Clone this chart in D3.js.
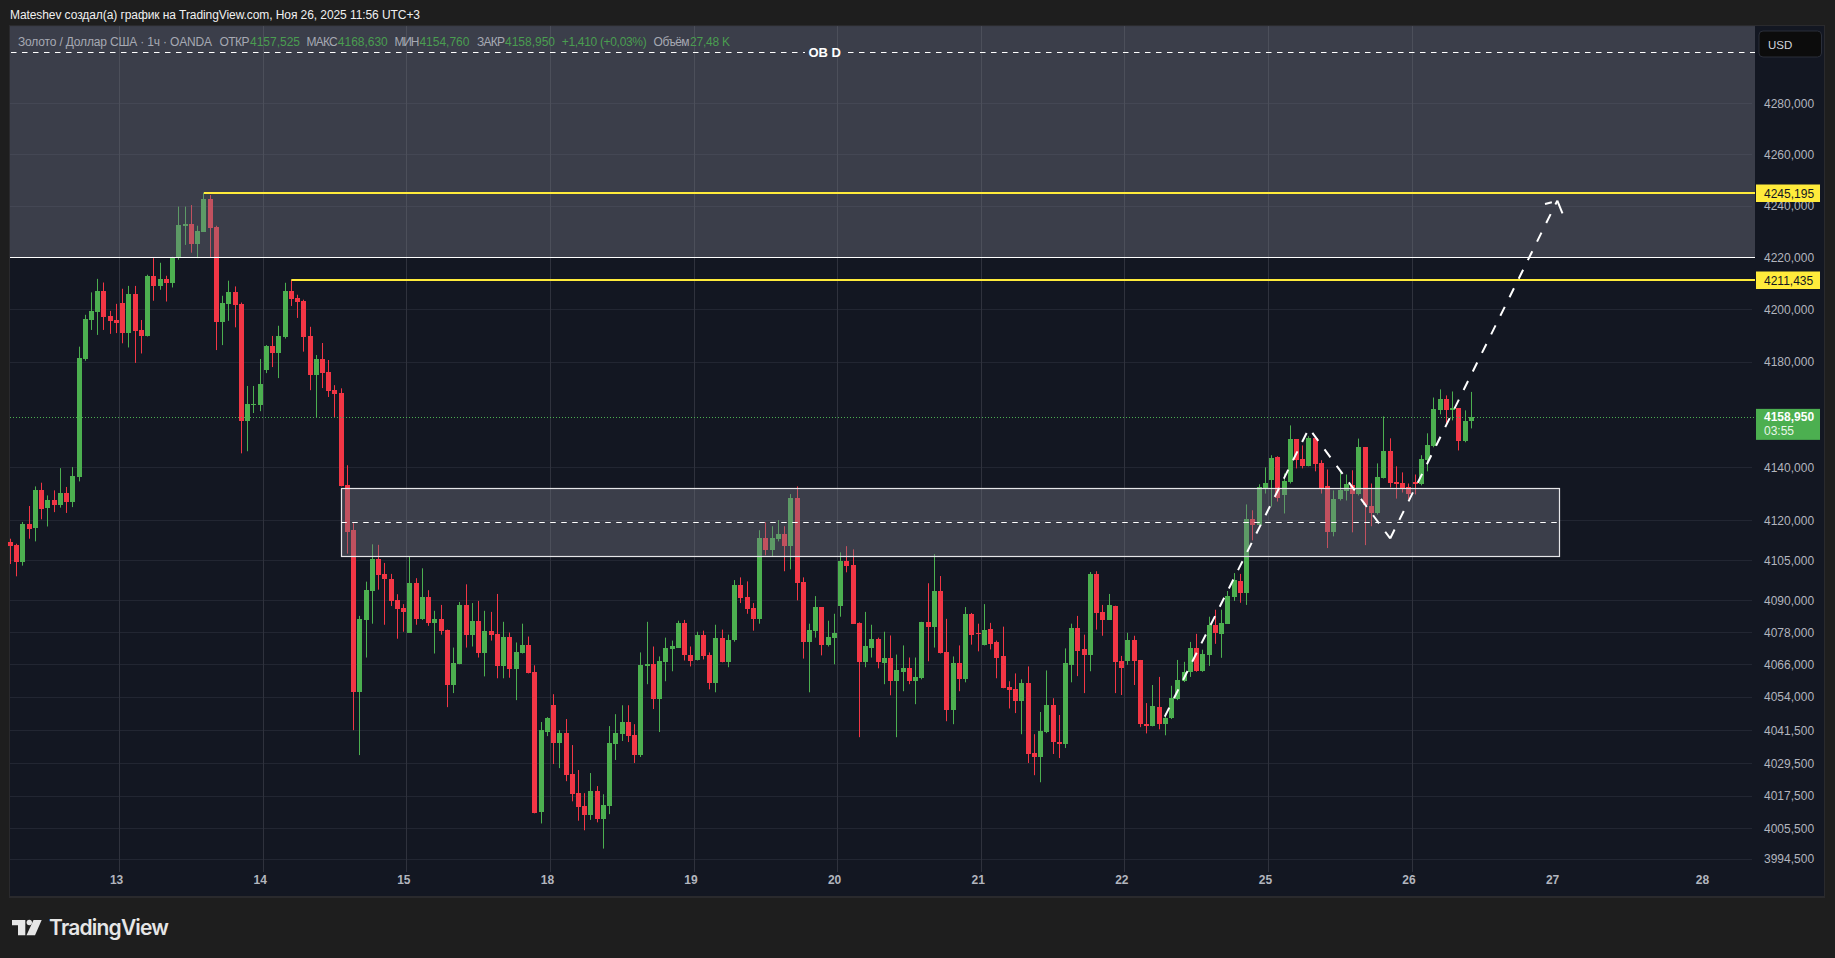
<!DOCTYPE html>
<html>
<head>
<meta charset="utf-8">
<title>XAUUSD 1h</title>
<script src="https://cdn.jsdelivr.net/npm/d3@7"></script>
<style>
    html, body { margin: 0; padding: 0; background: #1e1e1e; overflow: hidden; }
    svg { display: block; font-family: "Liberation Sans", sans-serif; }
</style>
</head>
<body>
<div id="chart"></div>
<script>
// One hourly candle per slot
var opens = [
    4111.8, 4110.6, 4104.3, 4118.5, 4117.1, 4131.3, 4124.7, 4127.8, 4125.7, 4130.2,
    4126.8, 4136.2, 4181.0, 4196.1, 4199.2, 4207.3, 4197.7, 4196.1, 4202.7, 4191.1,
    4206.2, 4192.3, 4190.0, 4213.1, 4209.2, 4211.9, 4210.4, 4219.9, 4232.4, 4233.1,
    4225.4, 4230.0, 4242.8, 4232.0, 4195.4, 4202.3, 4206.9, 4202.3, 4157.5, 4163.6,
    4163.6, 4177.0, 4186.1, 4183.4, 4189.6, 4207.3, 4204.6, 4203.5, 4190.0, 4175.0,
    4181.1, 4176.2, 4169.3, 4168.2, 4133.2, 4116.3, 4055.8, 4082.7, 4093.4, 4105.4,
    4099.8, 4097.9, 4090.0, 4087.2, 4078.0, 4096.4, 4083.1, 4091.1, 4081.6, 4083.1,
    4079.1, 4058.4, 4066.2, 4088.3, 4077.2, 4082.4, 4070.2, 4078.7, 4077.6, 4065.4,
    4076.5, 4064.3, 4070.2, 4073.5, 4063.2, 4011.6, 4041.1, 4051.0, 4037.0, 4040.7,
    4025.6, 4018.6, 4013.8, 4010.5, 4019.3, 4009.0, 4013.8, 4036.7, 4040.3, 4044.8,
    4040.0, 4032.6, 4065.4, 4066.2, 4053.3, 4066.9, 4071.7, 4072.4, 4081.6, 4069.8,
    4067.6, 4077.2, 4069.5, 4059.2, 4076.1, 4066.9, 4075.4, 4095.6, 4091.1, 4087.2,
    4083.1, 4113.3, 4108.8, 4112.9, 4114.9, 4110.3, 4128.6, 4096.8, 4074.6, 4078.7,
    4087.5, 4073.5, 4076.1, 4087.9, 4104.6, 4103.1, 4081.6, 4066.9, 4072.4, 4075.7,
    4066.5, 4068.7, 4059.9, 4063.2, 4064.7, 4059.9, 4061.0, 4082.0, 4080.2, 4093.4,
    4070.6, 4049.2, 4066.5, 4060.6, 4085.0, 4078.0, 4073.2, 4079.4, 4074.3, 4069.1,
    4057.7, 4056.9, 4052.5, 4059.2, 4033.3, 4031.9, 4041.1, 4051.0, 4037.4, 4036.7,
    4065.8, 4079.8, 4071.7, 4069.5, 4099.9, 4085.7, 4082.7, 4088.0, 4067.5, 4067.5,
    4075.3, 4067.8, 4044.0, 4043.2, 4050.3, 4044.0, 4046.2, 4053.3, 4060.0, 4063.4,
    4072.3, 4063.7, 4069.7, 4080.9, 4077.5, 4081.2, 4091.3, 4097.3, 4092.8, 4120.4,
    4118.1, 4132.0, 4135.1, 4143.8, 4129.4, 4134.3, 4150.6, 4143.0, 4140.4, 4151.0,
    4141.5, 4132.8, 4115.5, 4127.9, 4130.9, 4133.2, 4129.8, 4147.6, 4125.3, 4122.6,
    4135.8, 4146.1, 4134.3, 4133.9, 4132.4, 4134.3, 4133.6, 4142.7, 4148.0, 4161.6,
    4165.8, 4161.6, 4162.4, 4149.9, 4157.525
];
var highs = [
    4113.1, 4111.2, 4119.4, 4125.4, 4132.8, 4134.2, 4129.4, 4131.3, 4139.7, 4132.6,
    4140.1, 4185.9, 4198.1, 4206.7, 4211.9, 4210.5, 4199.6, 4202.3, 4208.1, 4209.2,
    4209.2, 4196.1, 4213.5, 4219.9, 4218.1, 4213.1, 4220.4, 4239.8, 4239.8, 4240.4,
    4232.4, 4245.2, 4244.3, 4232.4, 4205.4, 4211.2, 4209.0, 4202.8, 4170.9, 4170.9,
    4181.2, 4186.5, 4190.0, 4193.9, 4210.4, 4211.4, 4205.8, 4203.9, 4193.5, 4182.7,
    4187.3, 4180.8, 4171.2, 4170.0, 4140.8, 4119.1, 4084.2, 4097.0, 4111.0, 4110.8,
    4104.0, 4099.9, 4092.3, 4088.6, 4106.3, 4098.3, 4102.0, 4093.8, 4086.1, 4088.3,
    4079.1, 4072.4, 4089.4, 4096.0, 4089.0, 4089.8, 4086.1, 4085.7, 4092.4, 4082.0,
    4078.0, 4074.3, 4081.3, 4076.5, 4065.8, 4044.8, 4046.6, 4055.1, 4041.8, 4045.9,
    4036.3, 4027.1, 4018.6, 4026.0, 4021.2, 4018.2, 4043.3, 4047.7, 4051.0, 4051.0,
    4044.0, 4070.6, 4082.0, 4072.8, 4069.1, 4076.1, 4075.0, 4082.4, 4082.7, 4072.8,
    4078.3, 4078.7, 4070.6, 4080.9, 4079.1, 4077.2, 4097.6, 4098.6, 4097.1, 4089.0,
    4116.3, 4119.3, 4117.8, 4120.1, 4117.8, 4129.9, 4132.8, 4098.6, 4081.3, 4091.6,
    4087.5, 4082.4, 4085.0, 4108.0, 4110.3, 4109.1, 4081.8, 4085.7, 4080.9, 4076.1,
    4078.3, 4076.9, 4069.8, 4073.2, 4068.7, 4068.7, 4082.0, 4096.4, 4107.3, 4099.1,
    4083.1, 4069.1, 4073.2, 4087.5, 4085.3, 4081.3, 4088.6, 4081.6, 4075.0, 4080.2,
    4059.9, 4062.8, 4060.6, 4065.4, 4040.3, 4048.5, 4063.9, 4053.6, 4047.4, 4072.1,
    4081.3, 4084.2, 4077.2, 4100.6, 4100.9, 4088.3, 4092.4, 4088.0, 4069.3, 4077.9,
    4076.8, 4067.8, 4051.8, 4058.5, 4061.5, 4048.1, 4058.2, 4067.8, 4067.1, 4074.5,
    4077.5, 4071.6, 4083.9, 4086.5, 4086.5, 4093.5, 4100.2, 4099.9, 4126.0, 4123.8,
    4133.6, 4140.0, 4144.6, 4144.2, 4137.7, 4155.9, 4150.6, 4148.3, 4151.8, 4151.0,
    4142.7, 4139.2, 4131.3, 4138.1, 4137.3, 4138.9, 4150.9, 4147.6, 4133.9, 4141.5,
    4159.3, 4151.0, 4140.4, 4138.1, 4133.9, 4137.3, 4144.6, 4152.9, 4166.5, 4169.6,
    4167.3, 4168.8, 4162.4, 4161.6, 4168.63
];
var lows = [
    4103.6, 4099.0, 4103.0, 4113.1, 4112.1, 4120.4, 4117.7, 4123.1, 4124.8, 4122.8,
    4125.0, 4134.7, 4180.5, 4192.3, 4190.4, 4192.3, 4190.8, 4191.1, 4187.2, 4185.6,
    4179.7, 4183.3, 4189.8, 4203.5, 4207.7, 4203.2, 4208.6, 4219.3, 4225.0, 4222.0,
    4219.9, 4230.0, 4220.3, 4184.6, 4186.5, 4195.8, 4193.3, 4145.3, 4146.1, 4160.6,
    4161.3, 4175.8, 4178.1, 4173.9, 4189.0, 4201.5, 4196.9, 4184.0, 4169.3, 4158.8,
    4170.1, 4166.7, 4159.0, 4132.8, 4107.5, 4041.8, 4032.6, 4068.7, 4081.3, 4094.0,
    4080.9, 4087.9, 4075.7, 4078.3, 4078.0, 4080.9, 4082.7, 4080.5, 4070.2, 4077.2,
    4050.3, 4055.5, 4066.2, 4072.4, 4072.8, 4068.7, 4061.7, 4075.0, 4061.0, 4061.0,
    4061.2, 4052.9, 4070.2, 4062.8, 4011.2, 4007.5, 4039.6, 4029.3, 4027.8, 4023.0,
    4015.6, 4008.5, 4005.0, 4008.8, 4007.9, 3998.3, 4010.9, 4030.8, 4037.8, 4037.4,
    4029.7, 4031.9, 4058.8, 4049.6, 4041.1, 4059.9, 4063.6, 4072.4, 4067.6, 4065.4,
    4067.6, 4068.0, 4056.9, 4055.8, 4066.9, 4065.1, 4074.6, 4089.0, 4085.0, 4078.7,
    4081.3, 4106.9, 4106.5, 4112.1, 4100.9, 4101.6, 4090.0, 4068.3, 4055.8, 4076.1,
    4069.5, 4072.8, 4066.2, 4083.9, 4100.5, 4081.3, 4039.2, 4065.1, 4068.7, 4064.7,
    4058.8, 4054.7, 4039.2, 4056.2, 4058.8, 4051.4, 4060.6, 4067.3, 4072.4, 4070.2,
    4045.1, 4044.0, 4056.2, 4059.5, 4073.5, 4071.0, 4073.2, 4071.7, 4061.0, 4057.3,
    4049.8, 4048.1, 4040.3, 4029.7, 4025.2, 4022.6, 4040.7, 4033.0, 4031.5, 4035.2,
    4059.5, 4061.8, 4055.5, 4063.6, 4079.1, 4076.8, 4082.7, 4055.5, 4054.8, 4066.0,
    4058.5, 4042.9, 4040.6, 4043.2, 4042.1, 4039.9, 4045.9, 4052.9, 4059.6, 4061.5,
    4063.4, 4063.4, 4065.6, 4073.8, 4068.6, 4081.2, 4089.8, 4089.1, 4088.3, 4112.5,
    4118.1, 4130.1, 4125.2, 4127.1, 4122.6, 4133.9, 4139.6, 4139.6, 4140.4, 4138.5,
    4130.1, 4109.6, 4114.0, 4127.5, 4127.5, 4115.5, 4129.4, 4110.7, 4117.8, 4122.2,
    4135.8, 4132.4, 4128.2, 4130.5, 4127.9, 4129.8, 4133.2, 4138.5, 4147.6, 4160.1,
    4156.3, 4157.8, 4146.4, 4149.5, 4154.76
];
var closes = [
    4110.2, 4104.3, 4118.5, 4116.9, 4131.3, 4124.3, 4127.8, 4125.7, 4130.2, 4126.8,
    4136.6, 4181.5, 4196.5, 4199.6, 4207.3, 4197.3, 4195.8, 4195.0, 4191.1, 4206.2,
    4191.9, 4190.0, 4213.1, 4209.2, 4211.9, 4210.4, 4220.3, 4232.7, 4233.1, 4225.4,
    4230.4, 4242.8, 4231.6, 4195.4, 4202.7, 4206.9, 4201.9, 4157.5, 4164.0, 4164.0,
    4171.6, 4186.1, 4183.4, 4190.0, 4207.3, 4204.2, 4203.1, 4189.6, 4175.0, 4181.1,
    4175.8, 4169.0, 4167.8, 4132.8, 4115.8, 4055.8, 4083.1, 4093.8, 4105.4, 4099.4,
    4097.9, 4089.8, 4086.8, 4085.7, 4096.4, 4083.1, 4091.1, 4081.6, 4083.1, 4078.7,
    4058.4, 4066.5, 4088.3, 4077.2, 4082.4, 4070.2, 4078.7, 4077.2, 4065.4, 4076.5,
    4064.3, 4070.6, 4073.5, 4062.8, 4011.5, 4041.8, 4046.2, 4037.0, 4040.7, 4025.2,
    4018.2, 4013.4, 4010.5, 4019.3, 4009.0, 4014.2, 4037.0, 4040.7, 4044.8, 4039.6,
    4032.6, 4065.8, 4066.2, 4053.3, 4067.3, 4072.1, 4072.8, 4081.6, 4069.5, 4067.3,
    4077.2, 4069.1, 4059.2, 4076.1, 4066.9, 4075.4, 4095.6, 4090.8, 4086.8, 4083.1,
    4113.3, 4108.8, 4113.3, 4114.9, 4110.3, 4128.6, 4096.4, 4074.6, 4079.1, 4087.5,
    4073.5, 4076.5, 4078.0, 4104.6, 4102.8, 4081.3, 4066.9, 4072.8, 4075.7, 4066.9,
    4068.7, 4059.9, 4063.9, 4064.7, 4059.9, 4061.4, 4082.0, 4080.2, 4093.4, 4070.2,
    4049.2, 4066.5, 4060.6, 4085.0, 4077.2, 4077.7, 4079.1, 4073.9, 4068.7, 4057.3,
    4056.6, 4052.5, 4059.2, 4033.0, 4031.9, 4041.5, 4051.0, 4037.4, 4036.7, 4066.5,
    4079.8, 4071.3, 4069.5, 4099.9, 4085.3, 4082.7, 4088.1, 4067.1, 4064.9, 4075.3,
    4067.5, 4044.0, 4043.2, 4050.7, 4044.0, 4046.2, 4053.7, 4060.4, 4063.4, 4072.3,
    4063.7, 4070.1, 4080.9, 4077.9, 4081.6, 4091.7, 4097.6, 4092.8, 4120.4, 4118.1,
    4132.4, 4133.9, 4143.4, 4128.6, 4134.7, 4150.6, 4142.7, 4140.4, 4151.0, 4141.1,
    4132.0, 4115.5, 4128.2, 4131.3, 4133.6, 4129.8, 4147.6, 4125.7, 4122.6, 4136.2,
    4146.1, 4133.9, 4133.6, 4132.0, 4129.8, 4133.6, 4143.0, 4148.3, 4162.0, 4165.8,
    4161.6, 4162.4, 4149.9, 4157.4, 4158.95
];

// Price axis (TradingView log scale picks these)
var priceTicks = [4280, 4260, 4240, 4220, 4200, 4180, 4140, 4120, 4105, 4090, 4078, 4066, 4054, 4041.5, 4029.5, 4017.5, 4005.5, 3994.5];

// Day labels and the slot (in candles) each one sits on
var dayLabels = ["13", "14", "15", "18", "19", "20", "21", "22", "25", "26", "27", "28"];
var daySlots = [17.5, 40.5, 63.5, 86.5, 109.5, 132.5, 155.5, 178.5, 201.5, 224.5, 247.5, 271.5];
var gridDays = 10; // the last two days are in the future and have no grid line

// Drawings on the chart, prices and candle slots
var obPrice = 4300, obZoneTop = 4310.3, obZoneBottom = 4220;
var boxPrices = [4132.1, 4119.3, 4106.5];
var boxSlots = [53, 248];
var levelPrices = [4245.195, 4211.435];
var levelSlots = [31, 45];
var lastPrice = 4158.95;
var pathSlots = [184.9, 208, 221, 247.77];
var pathPrices = [4046.8, 4154.8, 4113.2, 4242.1];
var headLeftSlots = [245.8, 246.9];
var headLeftPrices = [4240.8, 4241.5];
var headRightSlots = [247.77, 248.6];
var headRightPrices = [4242.1, 4237.2];

// Legend line
var legendLabels = ["Золото / Доллар США · 1ч · OANDA", "ОТКР", "МАКС", "МИН", "ЗАКР", "Объём"];
var legendValues = ["4157,525", "4168,630", "4154,760", "4158,950", "+1,410 (+0,03%)", "27,48 K"];

var width = 1835, height = 958;
var panelLeft = 10, panelRight = 1824, panelTop = 26, panelBottom = 897;
var plotRight = 1755, plotBottom = 872;
var upColor = "#4caf50", downColor = "#f23645", gridColor = "#222632", bgColor = "#131722";
var yellow = "#ffeb3b";

var svg = d3.select("#chart").append("svg")
    .attr("width", width)
    .attr("height", height);

// Scales, the price side is logarithmic
var x = d3.scaleLinear().domain([0, 234]).range([10.33, 1471.33]);
var y = d3.scaleLog().domain([3994.5, 4280]).range([859, 103.3]);

function crisp(v) { return Math.floor(v) + 0.5; }
function priceText(v) { return d3.format(".3f")(v).replace(".", ","); }

// Panel
svg.append("rect")
    .attr("x", panelLeft - 1).attr("y", panelTop - 1)
    .attr("width", panelRight - panelLeft + 2).attr("height", panelBottom - panelTop + 2)
    .style("fill", "#2a2a2d");
svg.append("rect")
    .attr("x", panelLeft).attr("y", panelTop)
    .attr("width", panelRight - panelLeft).attr("height", panelBottom - panelTop - 1)
    .style("fill", bgColor);

// Grid
svg.append("g").selectAll("line")
    .data(priceTicks)
    .enter().append("line")
    .attr("x1", panelLeft).attr("x2", plotRight - 3)
    .attr("y1", d => crisp(y(d))).attr("y2", d => crisp(y(d)))
    .style("stroke", gridColor);
svg.append("g").selectAll("line")
    .data(daySlots.slice(0, gridDays))
    .enter().append("line")
    .attr("x1", d => crisp(x(d))).attr("x2", d => crisp(x(d)))
    .attr("y1", panelTop).attr("y2", plotBottom)
    .style("stroke", "#2f323d");

// Candles
var slots = d3.range(opens.length);
var candles = svg.append("g").attr("class", "candles");
candles.selectAll(".wick")
    .data(slots)
    .enter().append("rect")
    .attr("class", "wick")
    .attr("x", i => Math.floor(x(i)))
    .attr("y", i => y(highs[i]))
    .attr("width", 1)
    .attr("height", i => y(lows[i]) - y(highs[i]))
    .style("fill", i => closes[i] >= opens[i] ? upColor : downColor);
candles.selectAll(".body")
    .data(slots)
    .enter().append("rect")
    .attr("class", "body")
    .attr("x", i => Math.floor(x(i)) - 2)
    .attr("y", i => Math.round(y(Math.max(opens[i], closes[i]))))
    .attr("width", 5)
    .attr("height", i => Math.max(1, Math.round(y(Math.min(opens[i], closes[i]))) - Math.round(y(Math.max(opens[i], closes[i])))))
    .style("fill", i => closes[i] >= opens[i] ? upColor : downColor);

// Order block zone up top, it sits over the candles
svg.append("rect")
    .attr("x", panelLeft).attr("width", plotRight - panelLeft)
    .attr("y", y(obZoneTop)).attr("height", crisp(y(obZoneBottom)) - y(obZoneTop))
    .style("fill", "#787b86").style("fill-opacity", 0.4);
svg.append("line")
    .attr("x1", panelLeft).attr("x2", plotRight)
    .attr("y1", crisp(y(obZoneBottom))).attr("y2", crisp(y(obZoneBottom)))
    .style("stroke", "#fff").style("stroke-width", 1.2);

// OB D dashed line with its gap for the text
var obGap = [805, 848];
[[panelLeft + 1, obGap[0]], [obGap[1], plotRight]].forEach(function (seg) {
    svg.append("line")
        .attr("x1", seg[0]).attr("x2", seg[1])
        .attr("y1", crisp(y(obPrice))).attr("y2", crisp(y(obPrice)))
        .style("stroke", "#fff")
        .style("stroke-dasharray", "5.5,5.5");
});
svg.append("text")
    .attr("x", 824.7).attr("y", y(obPrice) + 5)
    .attr("text-anchor", "middle")
    .style("font-size", "13px").style("font-weight", "600").style("fill", "#fff")
    .text("OB D");

// Middle box
svg.append("rect")
    .attr("x", crisp(x(boxSlots[0]))).attr("width", Math.round(x(boxSlots[1]) - x(boxSlots[0])))
    .attr("y", crisp(y(boxPrices[0]))).attr("height", Math.round(y(boxPrices[2]) - y(boxPrices[0])))
    .style("fill", "#787b86").style("fill-opacity", 0.4)
    .style("stroke", "#e6e6e9").style("stroke-width", 1.2);
svg.append("line")
    .attr("x1", x(boxSlots[0])).attr("x2", x(boxSlots[1]))
    .attr("y1", crisp(y(boxPrices[1]))).attr("y2", crisp(y(boxPrices[1])))
    .style("stroke", "#fff")
    .style("stroke-dasharray", "5.5,5.5");

// Yellow levels
svg.append("g").selectAll("line")
    .data(levelPrices)
    .enter().append("line")
    .attr("x1", (d, i) => x(levelSlots[i])).attr("x2", plotRight)
    .attr("y1", d => Math.round(y(d))).attr("y2", d => Math.round(y(d)))
    .style("stroke", yellow).style("stroke-width", 2);

// Last price line
svg.append("line")
    .attr("x1", panelLeft).attr("x2", plotRight)
    .attr("y1", crisp(y(lastPrice))).attr("y2", crisp(y(lastPrice)))
    .style("stroke", upColor).style("stroke-dasharray", "1,2");

// Projected path, the dash pattern restarts on each leg
var pathLine = d3.line().x(d => x(d[0])).y(d => y(d[1]));
var pathPoints = d3.zip(pathSlots, pathPrices);
var legDash = ["10,10.47", "10,10.47", "10,10.7"];
var legOffset = [0, 14.77, 0];
legDash.forEach(function (dash, i) {
    svg.append("path")
        .attr("d", pathLine(pathPoints.slice(i, i + 2)))
        .style("fill", "none").style("stroke", "#fff").style("stroke-width", 2)
        .style("stroke-dasharray", dash)
        .style("stroke-dashoffset", legOffset[i]);
});
[d3.zip(headLeftSlots, headLeftPrices), d3.zip(headRightSlots, headRightPrices)].forEach(function (wing) {
    svg.append("path")
        .attr("d", pathLine(wing))
        .style("fill", "none").style("stroke", "#fff").style("stroke-width", 2);
});

// Price axis
var yAxis = d3.axisRight(y)
    .tickValues(priceTicks)
    .tickFormat(priceText)
    .tickSize(0)
    .tickPadding(9);
var yAxisG = svg.append("g")
    .attr("transform", "translate(" + plotRight + ",0)")
    .call(yAxis);
yAxisG.select(".domain").remove();
yAxisG.selectAll("text")
    .style("font-family", "'Liberation Sans', sans-serif")
    .style("font-size", "12px").style("fill", "#b2b5be");

// Day axis
var xAxis = d3.axisBottom(x)
    .tickValues(daySlots)
    .tickFormat((d, i) => dayLabels[i])
    .tickSize(0)
    .tickPadding(0);
var xAxisG = svg.append("g")
    .attr("transform", "translate(-3.5," + 875 + ")")
    .call(xAxis);
xAxisG.select(".domain").remove();
xAxisG.selectAll("text")
    .style("font-family", "'Liberation Sans', sans-serif")
    .style("font-size", "12px").style("font-weight", "700").style("fill", "#b2b5be");

// Level tags on the axis
svg.append("g").selectAll("rect")
    .data(levelPrices)
    .enter().append("rect")
    .attr("x", 1756).attr("width", 64)
    .attr("y", d => Math.round(y(d)) - 8.5).attr("height", 17.5)
    .style("fill", yellow);
svg.append("g").selectAll("text")
    .data(levelPrices)
    .enter().append("text")
    .attr("x", 1764).attr("y", d => Math.round(y(d)) + 4.5)
    .style("font-size", "12px").style("fill", "#131722")
    .text(priceText);

// Last price tag
svg.append("rect")
    .attr("x", 1756).attr("width", 64)
    .attr("y", y(lastPrice) - 8.5).attr("height", 31)
    .style("fill", upColor);
svg.append("text")
    .attr("x", 1764).attr("y", y(lastPrice) + 3.7)
    .style("font-size", "12px").style("font-weight", "700").style("fill", "#fff")
    .text(priceText(lastPrice));
svg.append("text")
    .attr("x", 1764).attr("y", y(lastPrice) + 17.5)
    .style("font-size", "12px").style("fill", "#e8f5e9")
    .text("03:55");

// Currency button
svg.append("rect")
    .attr("x", 1759).attr("y", 31).attr("width", 62.5).attr("height", 26).attr("rx", 4)
    .style("fill", "#0c0c0c").style("stroke", "#2a2e39");
svg.append("text")
    .attr("x", 1768).attr("y", 48.5)
    .style("font-size", "11.5px").style("fill", "#d1d4dc")
    .text("USD");

// Header
svg.append("text")
    .attr("x", 10).attr("y", 19)
    .attr("textLength", 410)
    .style("font-size", "12px").style("fill", "#f0f0f0")
    .text("Mateshev создал(а) график на TradingView.com, Ноя 26, 2025 11:56 UTC+3");

// Legend, label then value
var labelSpots = [[18, 194], [219.4, 30], [306.6, 31], [394.4, 25], [477, 28], [653.6, 36]];
var valueSpots = [[250, 50], [337.8, 50], [419.4, 50], [505, 50], [561.7, 85], [690, 40]];
var legend = svg.append("g").style("font-size", "12px");
legend.selectAll(".lab")
    .data(legendLabels)
    .enter().append("text")
    .attr("class", "lab")
    .attr("x", (d, i) => labelSpots[i][0]).attr("y", 46)
    .attr("textLength", (d, i) => labelSpots[i][1])
    .style("fill", "#a6a9b3")
    .text(d => d);
legend.selectAll(".val")
    .data(legendValues)
    .enter().append("text")
    .attr("class", "val")
    .attr("x", (d, i) => valueSpots[i][0]).attr("y", 46)
    .attr("textLength", (d, i) => valueSpots[i][1])
    .style("fill", "#4a9d50")
    .text(d => d);

// Logo
var logo = svg.append("g").style("fill", "#e6e6e6");
logo.append("path").attr("d", "M12 920H25.3V935.3H18V925.3H12Z");
logo.append("circle").attr("cx", 29.3).attr("cy", 922.5).attr("r", 2.7);
logo.append("path").attr("d", "M33.5 920H41.7L35 935.3H26.5Z");
logo.append("text")
    .attr("x", 49).attr("y", 935)
    .attr("textLength", 120)
    .style("font-family", "Inter, sans-serif")
    .style("font-size", "21px").style("font-weight", "600")
    .text("TradingView");
</script>
</body>
</html>
